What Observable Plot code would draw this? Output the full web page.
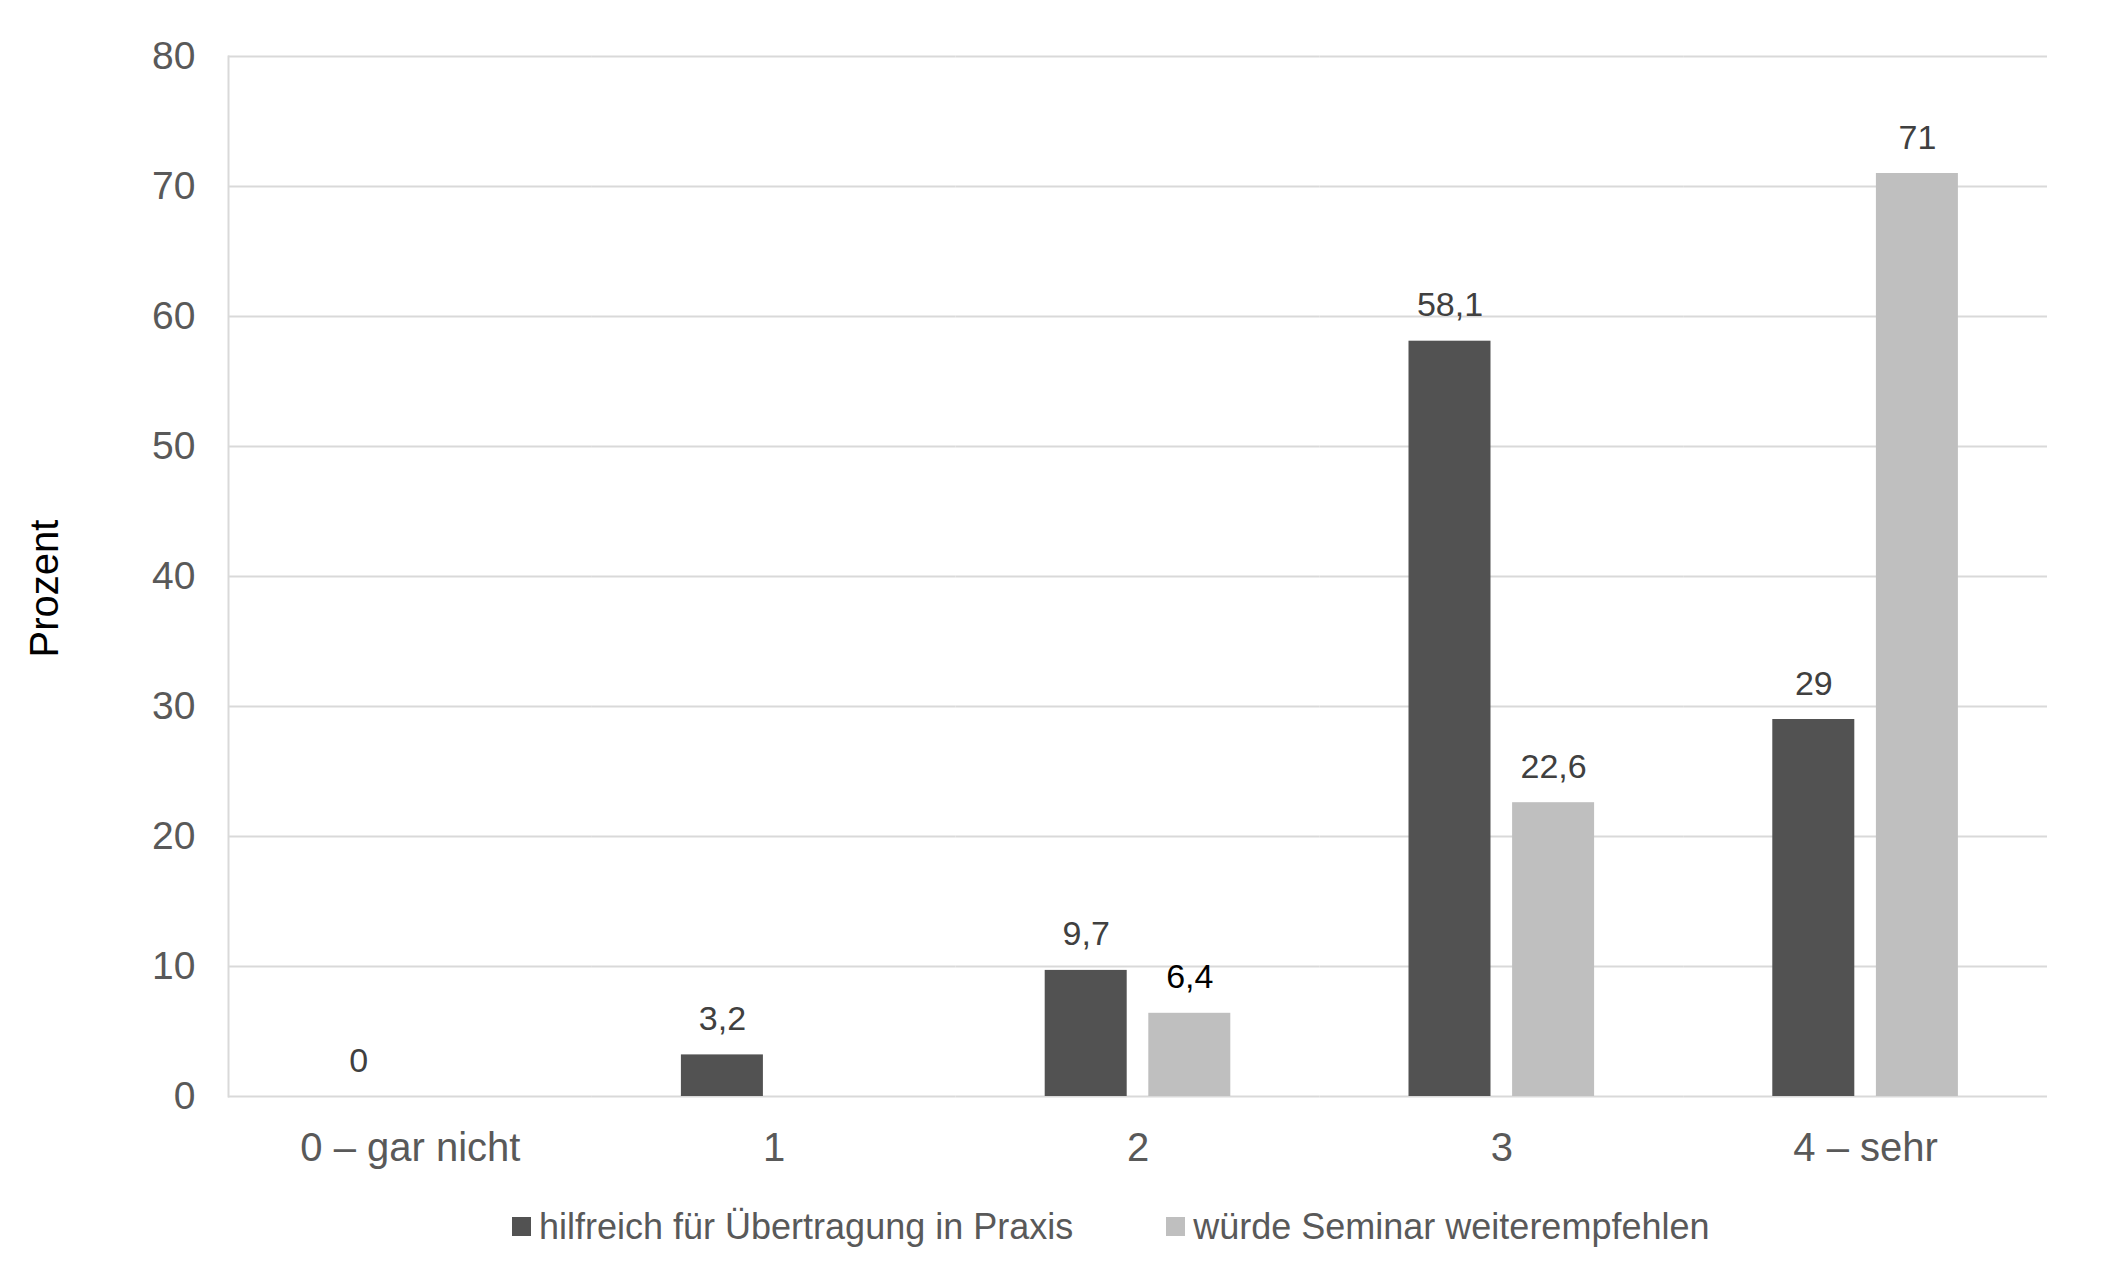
<!DOCTYPE html>
<html>
<head>
<meta charset="utf-8">
<script src="https://cdn.jsdelivr.net/npm/d3@7"></script>
<script src="https://cdn.jsdelivr.net/npm/@observablehq/plot@0.6"></script>
<style>
  html, body { margin: 0; padding: 0; background: #ffffff; }
  body { width: 2103px; height: 1270px; overflow: hidden; font-family: "Liberation Sans", Arial, sans-serif; }
  #chart svg { display: block; }
  .lg-swatches { height: 73px !important; min-height: 73px !important; margin: 0 !important; padding-left: 512px !important; box-sizing: border-box; align-items: center !important; flex-wrap: nowrap !important; }
  .lg-swatch { margin-right: 93px !important; }
  .lg-swatch > svg { margin-right: 8px !important; }
</style>
</head>
<body>
<div id="chart"></div>
<script>
// ---- data ----
const categories = ["0 – gar nicht", "1", "2", "3", "4 – sehr"];
const series = ["hilfreich für Übertragung in Praxis", "würde Seminar weiterempfehlen"];
const hilfreich = [0, 3.2, 9.7, 58.1, 29];
const weiterempfehlen = [null, null, 6.4, 22.6, 71];
const yTicks = [0, 10, 20, 30, 40, 50, 60, 70, 80];
const yLabel = ["Prozent"];
const colors = ["#525252", "#bfbfbf"];

const seriesValues = [hilfreich, weiterempfehlen];
const rows = categories.flatMap((c, i) =>
  series.map((s, j) => ({category: c, series: s, value: seriesValues[j][i]}))
).filter(d => d.value !== null);

const fmt = v => v.toLocaleString("de-DE");
const font = "Liberation Sans, Arial, sans-serif";
// in the original, the label of the light bar at "2" is drawn in black
const labelFill = d => (d.series === series[1] && d.category === categories[2]) ? "#000000" : "#404040";

const chart = Plot.plot({
  width: 2103,
  height: 1190,
  marginTop: 56,
  marginBottom: 94,
  marginLeft: 228,
  marginRight: 56,
  style: {fontFamily: font, background: "#ffffff"},
  fx: {domain: categories, padding: 0, round: false, label: null},
  x: {domain: series, paddingInner: 0.2085, paddingOuter: 0.86, round: false, axis: null},
  y: {domain: [0, 80], label: null},
  color: {domain: series, range: colors},
  marks: [
    Plot.gridY(yTicks, {stroke: "#d9d9d9", strokeWidth: 2, strokeOpacity: 1}),
    Plot.frame({anchor: "left", stroke: "#d9d9d9", strokeWidth: 2, facetAnchor: "left"}),
    Plot.barY(rows, {fx: "category", x: "series", y: "value", fill: "series"}),
    Plot.text(rows, {fx: "category", x: "series", y: "value", text: d => fmt(d.value),
      dy: -25, lineAnchor: "bottom", fontSize: 34, fill: labelFill}),
    Plot.axisY({ticks: yTicks, tickSize: 0, tickPadding: 33, fontSize: 39, color: "#595959",
      label: null}),
    Plot.text(yLabel, {frameAnchor: "left", facetAnchor: "left", rotate: -90, dx: -183, dy: 12,
      lineAnchor: "middle", textAnchor: "middle", fontSize: 40, fill: "#000000"}),
    Plot.axisFx({anchor: "bottom", tickSize: 0, tickPadding: 36, fontSize: 40, color: "#595959", label: null})
  ]
});

document.getElementById("chart").appendChild(chart);

const legend = Plot.legend({
  color: {type: "ordinal", domain: series, range: colors},
  swatchSize: 19,
  className: "lg",
  style: {fontFamily: font, fontSize: "36px", color: "#595959"}
});
document.getElementById("chart").appendChild(legend);
</script>
</body>
</html>
